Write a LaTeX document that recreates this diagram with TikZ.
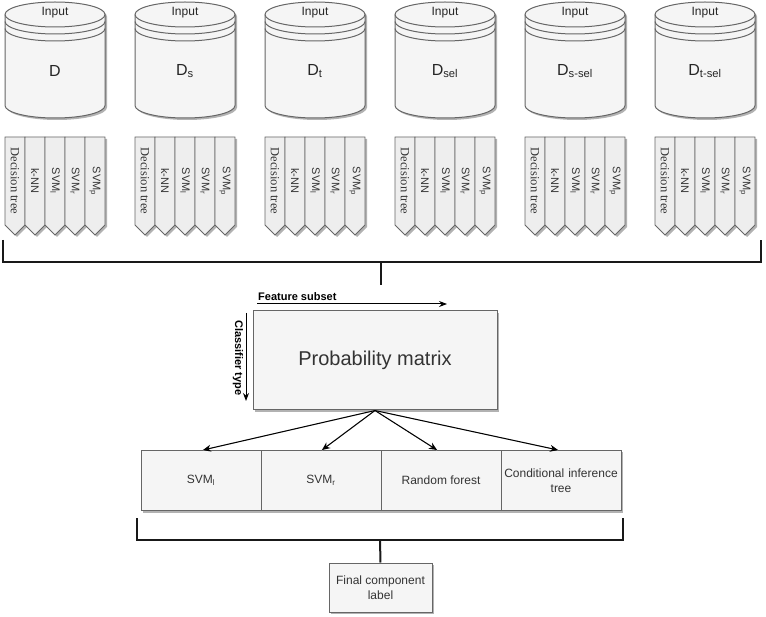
\documentclass[tikz,border=0pt]{standalone}
\usepackage{fontspec}
\setmainfont{Liberation Sans}
\newfontfamily\tms{Liberation Serif}
\usetikzlibrary{shadows,arrows.meta}
\definecolor{fillc}{HTML}{F5F5F5}
\definecolor{strokec}{HTML}{666666}
\definecolor{txt}{HTML}{333333}
\definecolor{colfill}{HTML}{EEEEEE}
\newcommand{\dtree}{\tms\fontsize{12.5}{14}\selectfont Decision tree}
\tikzset{
  shd/.style={drop shadow={shadow xshift=2pt,shadow yshift=-2pt,fill=black,opacity=0.3}},
  cyl/.style={fill=fillc,draw=strokec,line width=1pt,shd},
  colshape/.style={fill=colfill,draw=strokec,line width=0.8pt,shd},
  coltext/.style={rotate=-90,text=txt,font=\fontsize{11}{12}\selectfont,inner sep=0pt},
  box/.style={rectangle,fill=fillc,draw=strokec,line width=1pt,shd,text=txt,align=center,inner sep=2pt},
  brk/.style={line width=2pt,draw=black!90},
  brkshd/.style={line width=2pt,draw=black!25},
  arr/.style={line width=1pt,-{Stealth[length=8pt,width=7pt]}},
  arrshd/.style={line width=1pt,draw=black!25},
  axlabel/.style={font=\bfseries\fontsize{11}{12}\selectfont,inner sep=0pt,text=black},
}
\begin{document}
\begin{tikzpicture}[x=1pt,y=-1pt]
\useasboundingbox (0,0) rectangle (766,617);
% cylinders
\foreach \cx/\lab [count=\i] in {55/D,185/D\textsubscript{s},315/D\textsubscript{t},445/D\textsubscript{sel},575/D\textsubscript{s-sel},705/D\textsubscript{t-sel}}{
  \path[cyl] (\cx-50,14.5) -- (\cx-50,105.5) arc[start angle=180,end angle=360,x radius=50pt,y radius=12.5pt]
     -- (\cx+50,14.5) arc[start angle=0,end angle=180,x radius=50pt,y radius=12.5pt] -- cycle;
  \draw[strokec,line width=1pt] (\cx-50,14.5) arc[start angle=180,end angle=360,x radius=50pt,y radius=12.5pt];
  \draw[strokec,line width=1pt] (\cx-50,21.5) arc[start angle=180,end angle=360,x radius=50pt,y radius=12.5pt];
  \draw[strokec,line width=1pt] (\cx-50,28.5) arc[start angle=180,end angle=360,x radius=50pt,y radius=12.5pt];
  \node[text=black!85,font=\fontsize{12}{14}\selectfont] (in\i) at (\cx,13) {Input};
  \node[text=black!85,font=\fontsize{16}{18}\selectfont] (d\i) at (\cx,71) {\lab};
  \foreach \j/\lbl in {0/\dtree,1/k-NN,2/SVM\textsubscript{l},3/SVM\textsubscript{r},4/SVM\textsubscript{p}}{
    \path[colshape] (\cx-50+20*\j,137) -- ++(20,0) -- ++(0,88) -- ++(-10,10) -- ++(-10,-10) -- cycle;
    \node[coltext] (col\i-\j) at (\cx-40+20*\j,181) {\lbl};
  }
}
% top bracket
\coordinate (b1l) at (3,240);
\coordinate (b1lc) at (3,262);
\coordinate (b1rc) at (761,262);
\coordinate (b1r) at (761,240);
\coordinate (b1m) at (381,262);
\coordinate (b1s) at (381,285);
\draw[brkshd,shift={(1.5,1.5)}] (b1l) -- (b1lc) -- (b1rc) -- (b1r);
\draw[brk] (b1l) -- (b1lc) -- (b1rc) -- (b1r);
\draw[brk] (b1m) -- (b1s);
% probability matrix
\node[box,minimum width=244pt,minimum height=99pt,font=\fontsize{20}{24}\selectfont] (pm) at (375,360.5) {Probability matrix};
\coordinate (fsA) at (257,304);
\coordinate (fsB) at (447,304);
\draw[line width=1pt,-{Stealth[length=8pt,width=6pt]}] (fsA) -- (fsB);
\node[axlabel,anchor=base west] (fs) at (258,301) {Feature subset};
\coordinate (ctA) at (246,313);
\coordinate (ctB) at (246,401);
\draw[line width=1pt,-{Stealth[length=8pt,width=6pt]}] (ctA) -- (ctB);
\node[axlabel,rotate=-90] (ct) at (238,358) {Classifier type};
% classifiers
\node[box,minimum width=120pt,minimum height=60pt,font=\fontsize{12}{14}\selectfont] (c1) at (201,480.5) {SVM\textsubscript{l}};
\node[box,minimum width=120pt,minimum height=60pt,font=\fontsize{12}{14}\selectfont] (c2) at (321,480.5) {SVM\textsubscript{r}};
\node[box,minimum width=120pt,minimum height=60pt,font=\fontsize{12}{14}\selectfont] (c3) at (441,480.5) {Random forest};
\node[box,minimum width=120pt,minimum height=60pt,font=\fontsize{12}{15}\selectfont,text width=116pt] (c4) at (561,480.5) {Conditional inference\\tree};
\foreach \t/\dx in {c1/2,c2/1,c3/-4,c4/-3}{
  \draw[arrshd,shift={(1.5,1)}] (pm.south) -- ([xshift=\dx pt]\t.north);
}
\foreach \t/\dx in {c1/2,c2/1,c3/-4,c4/-3}{
  \draw[arr] (pm.south) -- ([xshift=\dx pt]\t.north);
}
% bottom bracket
\coordinate (b2l) at (137,518);
\coordinate (b2lc) at (137,540);
\coordinate (b2rc) at (623,540);
\coordinate (b2r) at (623,518);
\coordinate (b2m) at (380,540);
\draw[brkshd,shift={(1.5,1.5)}] (b2l) -- (b2lc) -- (b2rc) -- (b2r);
\draw[brk] (b2l) -- (b2lc) -- (b2rc) -- (b2r);
\node[box,minimum width=103pt,minimum height=49pt,font=\fontsize{12}{15}\selectfont] (fl) at (380.5,587.5) {Final component\\label};
\draw[brk] (b2m) -- (fl.north);
\end{tikzpicture}
\end{document}
